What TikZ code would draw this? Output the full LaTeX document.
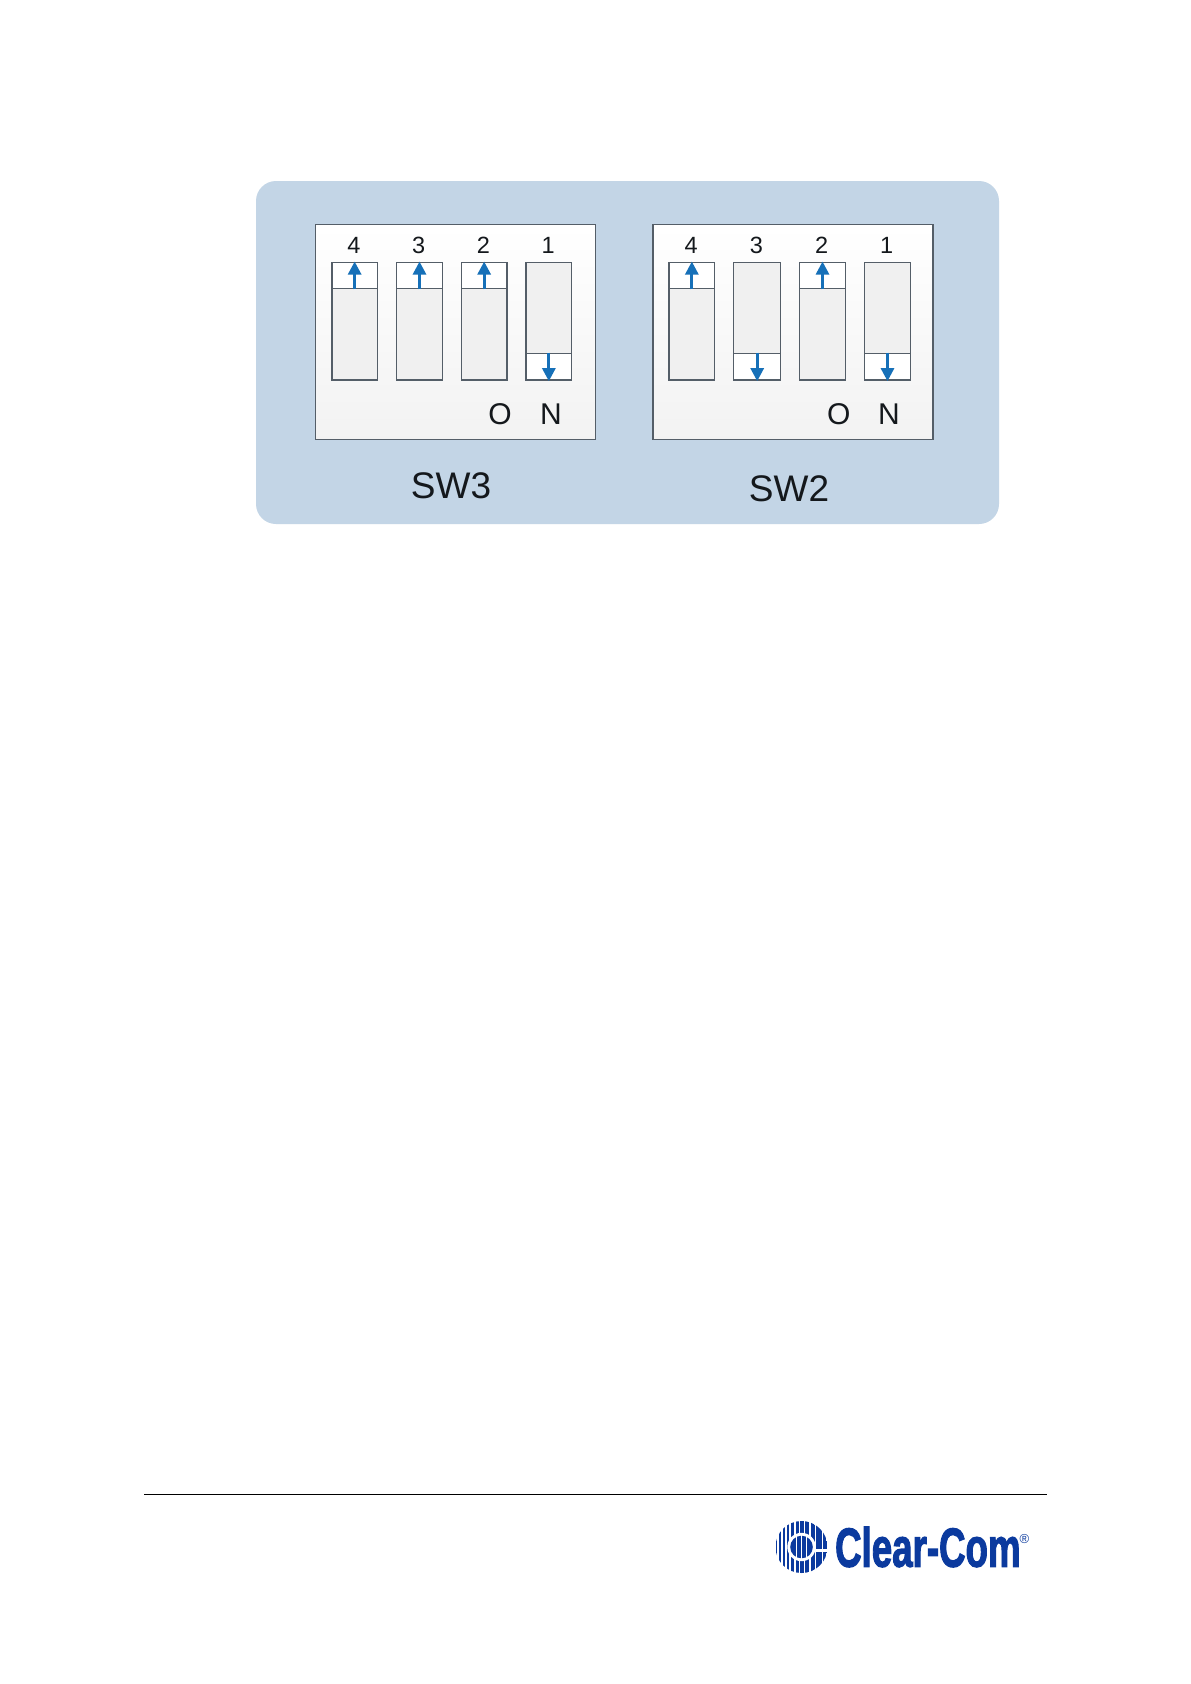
\documentclass[tikz,border=0pt]{standalone}
\usepackage{fontspec}
\setmainfont{Liberation Sans}
\newfontfamily\logofont[BoldFeatures={FakeBold=2.4}]{Liberation Sans}
\definecolor{panelblue}{HTML}{C3D5E6}
\definecolor{edgegrey}{HTML}{545E68}
\definecolor{swgrey}{HTML}{F0F0F0}
\definecolor{arrowblue}{HTML}{1670B8}
\definecolor{logoblue}{HTML}{0B3A9E}
\definecolor{inkdark}{HTML}{14181C}
\usetikzlibrary{arrows.meta}
\tikzset{
  panel/.style={fill=panelblue,draw=none,rounded corners=20pt},
  swbox/.style={draw=edgegrey,line width=1.3pt,top color=white,bottom color=swgrey!85!white,inner sep=0pt,anchor=north west},
  swbody/.style={draw=edgegrey,line width=1.3pt,fill=swgrey,inner sep=0pt},
  paddle/.style={draw=edgegrey,line width=1.3pt,fill=white,inner sep=0pt},
  numtxt/.style={font=\fontsize{23.5pt}{24pt}\selectfont,text=inkdark,inner sep=0pt},
  ontxt/.style={font=\fontsize{30pt}{30pt}\selectfont,text=inkdark,inner sep=0pt},
  swname/.style={font=\fontsize{37pt}{37pt}\selectfont,text=inkdark,inner sep=0pt},
  swarrow/.style={draw=arrowblue,line width=2.8pt,-{Triangle[length=13pt,width=13pt]}},
  logotxt/.style={text=logoblue,inner sep=0pt},
}
\newcommand{\dipswitch}[5]{% name, left x, right x, number, up|down
  \node[swbody,minimum width=#3pt-#2pt,minimum height=117.3pt] (#1) at ({(#2+#3)/2*1pt},-321.3pt) {};
  \node[numtxt] (#1n) at ({(#2+#3)/2*1pt-0.8pt},-245pt) {#4};
  \ifnum#5=1
    \node[paddle,minimum width=#3pt-#2pt,minimum height=26pt] (#1p) at ({(#2+#3)/2*1pt},-275.7pt) {};
    \draw[swarrow,shorten >=-0.5pt] (#1p.south) -- (#1p.north);
  \else
    \node[paddle,minimum width=#3pt-#2pt,minimum height=26.7pt] (#1p) at ({(#2+#3)/2*1pt},-366.65pt) {};
    \draw[swarrow,shorten >=-0.5pt] (#1p.north) -- (#1p.south);
  \fi
}
\begin{document}
\begin{tikzpicture}[x=1pt,y=-1pt]
\useasboundingbox[fill=white] (0,0) rectangle (1191,1684);
\node[panel,minimum width=743pt,minimum height=343pt,inner sep=0pt] (bg) at (627.5,352.5) {};
\node[swbox,minimum width=280pt,minimum height=215pt] (sw3) at (315,224) {};
\node[swbox,minimum width=280pt,minimum height=215pt] (sw2) at (652.3,224) {};
\dipswitch{aa}{332}{377.3}{4}{1}
\dipswitch{ab}{396.7}{442.3}{3}{1}
\dipswitch{ac}{461.3}{507}{2}{1}
\dipswitch{ad}{526}{571.7}{1}{0}
\dipswitch{ba}{669}{714.7}{4}{1}
\dipswitch{bb}{733.7}{780.7}{3}{0}
\dipswitch{bc}{799.7}{845.3}{2}{1}
\dipswitch{bd}{864.7}{910.3}{1}{0}
\node[ontxt] (o3) at (500,414) {O};
\node[ontxt] (n3) at (551,414) {N};
\node[ontxt] (o2) at (838.7,414) {O};
\node[ontxt] (n2) at (889,414) {N};
\node[swname] (l3) at (451,486) {SW3};
\node[swname] (l2) at (789,488.5) {SW2};
% footer rule
\coordinate (ruleA) at (144,1494);
\coordinate (ruleB) at (1047,1494);
\draw[black,line width=0.8pt] (ruleA) -- (ruleB);
% logo mark
\coordinate (lg) at (801.5,1547);
\begin{scope}
  \clip (lg) circle (26);
  \foreach \xx/\ww in {-25.3/0.9,-21.5/1.6,-17.5/2,-13.5/2.4,-9/2.8,-4.5/3,0.5/3.4,5.5/3.6,11/4,17.5/6,23.3/4}{
    \fill[logoblue] ([xshift=\xx pt]lg) ++(-\ww/2,-27) rectangle ++(\ww,54);
  }
  \fill[white] (lg) circle (14.2);
  \fill[white] ([xshift=10pt,yshift=-1.6pt]lg) rectangle ++(20,3.2);
\end{scope}
\fill[logoblue] (lg) circle (11.3);
\foreach \xx in {-5,0,5}{\fill[white] ([xshift=\xx pt]lg) ++(-0.35,-12) rectangle ++(0.7,24);}
% logo word
\node[logotxt,anchor=west,font=\logofont\bfseries\fontsize{56pt}{56pt}\selectfont,xscale=0.655,yscale=0.98] (logoword) at (835,1547) {Clear-Com};
\node[logotxt,font=\fontsize{13pt}{13pt}\selectfont] (logoreg) at (1024.5,1538.5) {®};
\end{tikzpicture}
\end{document}
